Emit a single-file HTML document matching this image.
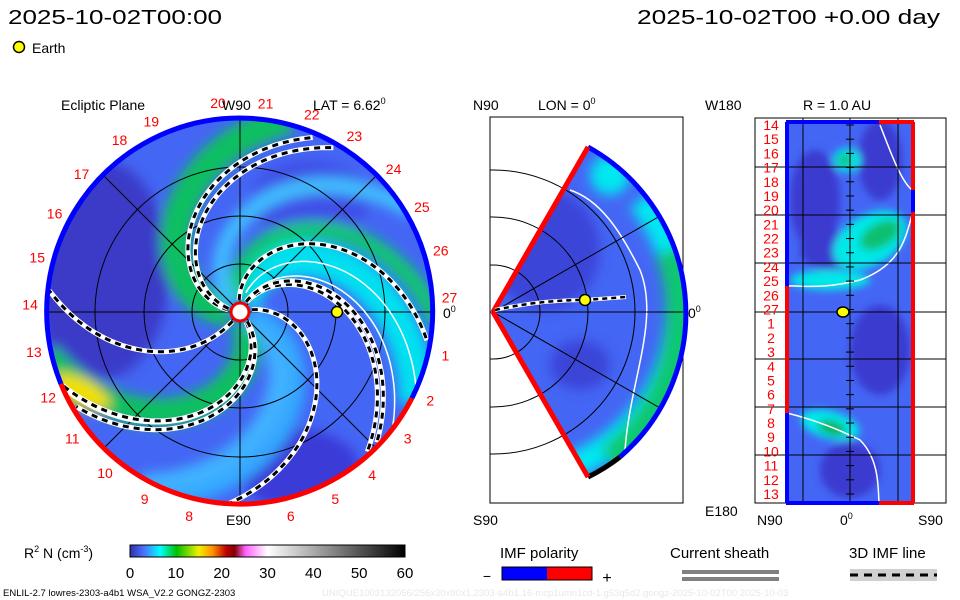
<!DOCTYPE html>
<html><head><meta charset="utf-8"><style>
html,body{margin:0;padding:0;background:#fff;}
svg{display:block;font-family:"Liberation Sans","DejaVu Sans",sans-serif;}
</style></head><body>
<svg id="s" width="960" height="600" viewBox="0 0 960 600" xmlns="http://www.w3.org/2000/svg">
<defs>
<clipPath id="cL"><circle cx="240" cy="312" r="193"/></clipPath>
<clipPath id="cM"><path d="M493,312 L588,147 A190,190 0 0 1 588,477 Z"/></clipPath>
<clipPath id="cMbox"><rect x="490" y="117" width="193" height="386"/></clipPath>
<clipPath id="cR"><rect x="786" y="122" width="127" height="381"/></clipPath>
<filter id="bl" x="-20%" y="-20%" width="140%" height="140%"><feGaussianBlur stdDeviation="6"/></filter>
<filter id="bl2" x="-20%" y="-20%" width="140%" height="140%"><feGaussianBlur stdDeviation="4"/></filter>
<linearGradient id="cbar" x1="0" x2="1" y1="0" y2="0">
<stop offset="0" stop-color="#3030a8"/><stop offset="0.05" stop-color="#4a70ff"/>
<stop offset="0.11" stop-color="#00ffff"/><stop offset="0.17" stop-color="#00c000"/>
<stop offset="0.25" stop-color="#f0f000"/><stop offset="0.30" stop-color="#ff9000"/>
<stop offset="0.35" stop-color="#c00000"/><stop offset="0.38" stop-color="#800000"/>
<stop offset="0.42" stop-color="#ff60ff"/><stop offset="0.5" stop-color="#ffffff"/>
<stop offset="1" stop-color="#000000"/>
</linearGradient>
</defs>

<text x="8" y="24" font-size="20" textLength="214" lengthAdjust="spacingAndGlyphs">2025-10-02T00:00</text>
<text x="637" y="24" font-size="20" textLength="303" lengthAdjust="spacingAndGlyphs">2025-10-02T00 +0.00 day</text>
<circle cx="19" cy="47" r="5.5" fill="#ffff00" stroke="#000" stroke-width="1.5"/>
<text x="32" y="53" font-size="14">Earth</text>

<!-- LEFT PANEL -->
<g>
<circle cx="240" cy="312" r="193" fill="#4466f4"/>
<g clip-path="url(#cL)" id="leftfill">
 <g filter="url(#bl)">
  <ellipse cx="100" cy="270" rx="70" ry="110" fill="#3a3ac8"/>
  <ellipse cx="300" cy="470" rx="60" ry="40" fill="#3a3ad8"/>
  <ellipse cx="310" cy="200" rx="60" ry="40" fill="#3f50e8"/>
  <g id="bands"></g>
  <ellipse cx="80" cy="392" rx="32" ry="14" fill="#f0e000" transform="rotate(25 80 392)"/>
 </g>
</g>
<g id="leftgrid" stroke="#000" stroke-width="1" fill="none">
 <circle cx="240" cy="312" r="48"/><circle cx="240" cy="312" r="96"/><circle cx="240" cy="312" r="145"/>
 <line x1="47" y1="312" x2="433" y2="312"/><line x1="240" y1="119" x2="240" y2="505"/>
 <line x1="103" y1="175" x2="377" y2="449"/><line x1="103" y1="449" x2="377" y2="175"/>
</g>
<g id="sheaths" fill="none" stroke="#fff" stroke-width="1.5"></g>
<g id="arms"></g>
<path d="M412,398 A193,193 0 0 1 61,384" fill="none" stroke="#ff0000" stroke-width="5"/>
<path d="M61,384 A193,193 0 1 1 412,398" fill="none" stroke="#0000ff" stroke-width="5"/>
<circle cx="240" cy="312" r="9" fill="#fff" stroke="#e00" stroke-width="3"/>
<circle cx="337" cy="312" r="5.5" fill="#ffff00" stroke="#000" stroke-width="1.5"/>
<g id="carr" font-size="14" fill="#ff0000" text-anchor="middle"></g>
<text x="61" y="110" font-size="14">Ecliptic Plane</text>
<text x="222" y="110" font-size="14">W90</text>
<text x="313" y="110" font-size="14">LAT = 6.62<tspan font-size="9" dy="-6">0</tspan></text>
<text x="226" y="525" font-size="14">E90</text>
<text x="443" y="318" font-size="14">0<tspan font-size="9" dy="-6">0</tspan></text>
</g>

<!-- MIDDLE PANEL -->
<g>
<rect x="490" y="117" width="193" height="386" fill="none" stroke="#000"/>
<path d="M493,312 L588,147 A190,190 0 0 1 588,477 Z" fill="#4466f4"/>
<g clip-path="url(#cM)"><g filter="url(#bl)">
 <ellipse cx="545" cy="250" rx="55" ry="60" fill="#3a44d8"/>
 <path d="M560,470 A170,170 0 0 0 640,200" stroke="#00e8f0" stroke-width="26" fill="none"/>
 <path d="M610,460 A185,185 0 0 0 670,250" stroke="#10c870" stroke-width="30" fill="none"/>
 <ellipse cx="610" cy="175" rx="20" ry="20" fill="#00e8f0"/>
 <ellipse cx="580" cy="365" rx="30" ry="25" fill="#3a44d8"/>
</g></g>
<path d="M625,450 C630,380 660,320 640,270 C620,230 600,200 570,190" stroke="#fff" stroke-width="1.5" fill="none"/>
<g stroke="#000" fill="none" clip-path="url(#cMbox)">
 <circle cx="493" cy="312" r="47"/><circle cx="493" cy="312" r="95"/><circle cx="493" cy="312" r="142"/>
 <line x1="490" y1="312" x2="683" y2="312"/>
 <line x1="493" y1="312" x2="660" y2="216"/><line x1="493" y1="312" x2="660" y2="408"/>
 <line x1="493" y1="312" x2="588" y2="147"/><line x1="493" y1="312" x2="588" y2="477"/>
</g>
<path d="M588,147 A190,190 0 0 1 620,457" fill="none" stroke="#0000ff" stroke-width="5"/>
<path d="M620,457 A190,190 0 0 1 588,477" fill="none" stroke="#000" stroke-width="5"/>
<path d="M493,312 L588,147 M493,312 L588,477" fill="none" stroke="#ff0000" stroke-width="5"/>
<path d="M495,310 Q540,300 585,300 L626,297" fill="none" stroke="#fff" stroke-width="4"/>
<path d="M495,310 Q540,300 585,300 L626,297" fill="none" stroke="#000" stroke-width="2.5" stroke-dasharray="5,4"/>
<circle cx="585" cy="300" r="5.5" fill="#ffff00" stroke="#000" stroke-width="1.5"/>
<text x="473" y="110" font-size="14">N90</text>
<text x="538" y="110" font-size="14">LON = 0<tspan font-size="9" dy="-6">0</tspan></text>
<text x="688" y="318" font-size="14">0<tspan font-size="9" dy="-6">0</tspan></text>
<text x="473" y="525" font-size="14">S90</text>
</g>

<!-- RIGHT PANEL -->
<g>
<rect x="755" y="118" width="191" height="385" fill="#fff" stroke="#000"/>
<rect x="786" y="122" width="127" height="381" fill="#4466f4"/>
<g clip-path="url(#cR)"><g filter="url(#bl2)">
 <ellipse cx="815" cy="200" rx="25" ry="50" fill="#3a3ad0"/>
 <ellipse cx="880" cy="160" rx="22" ry="40" fill="#3a3ad0"/>
 <ellipse cx="830" cy="250" rx="30" ry="20" fill="#3a3ad0"/>
 <ellipse cx="847" cy="160" rx="14" ry="12" fill="#00e8e8"/>
 <ellipse cx="845" cy="160" rx="7" ry="6" fill="#10c070"/>
 <ellipse cx="870" cy="240" rx="40" ry="25" fill="#00e8e8" transform="rotate(-30 870 240)"/>
 <ellipse cx="880" cy="235" rx="22" ry="12" fill="#10c070" transform="rotate(-30 880 235)"/>
 <ellipse cx="830" cy="280" rx="40" ry="10" fill="#00e8e8"/>
 <ellipse cx="880" cy="350" rx="30" ry="45" fill="#3a3ad0"/>
 <ellipse cx="830" cy="425" rx="30" ry="14" fill="#00e8e8" transform="rotate(15 830 425)"/>
 <ellipse cx="832" cy="428" rx="14" ry="7" fill="#10b050" transform="rotate(15 832 428)"/>
 <ellipse cx="850" cy="470" rx="30" ry="28" fill="#3a3ad0"/>
</g></g>
<path d="M880,125 C890,150 900,180 912,190 M912,215 C905,240 900,265 860,280 C820,290 800,285 787,286 M787,413 C815,420 840,430 860,440 C880,460 878,490 879,503" stroke="#fff" stroke-width="1.5" fill="none"/>
<g stroke="#000">
 <line x1="803" y1="118" x2="803" y2="503"/><line x1="850" y1="118" x2="850" y2="503"/><line x1="898" y1="118" x2="898" y2="503"/>
 <g id="rgrid"></g><g id="rticks"></g>
</g>
<path d="M787,122 L787,286" stroke="#0000ff" stroke-width="4"/><path d="M787,286 L787,413" stroke="#ff0000" stroke-width="4"/><path d="M787,413 L787,503" stroke="#0000ff" stroke-width="4"/>
<path d="M913,122 L913,190" stroke="#ff0000" stroke-width="4"/><path d="M913,190 L913,212" stroke="#0000ff" stroke-width="4"/><path d="M913,212 L913,503" stroke="#ff0000" stroke-width="4"/>
<path d="M786,122 L879,122 M786,503 L879,503" stroke="#0000ff" stroke-width="4"/><path d="M879,122 L914,122 M879,503 L914,503" stroke="#ff0000" stroke-width="4"/>
<ellipse cx="843" cy="312" rx="6" ry="5" fill="#ffff00" stroke="#000" stroke-width="1.5"/>
<g id="rlabels" font-size="14" fill="#ff0000" text-anchor="middle"></g>
<text x="705" y="110" font-size="14">W180</text>
<text x="803" y="110" font-size="14">R = 1.0 AU</text>
<text x="705" y="516" font-size="14">E180</text>
<text x="757" y="525" font-size="14">N90</text>
<text x="840" y="525" font-size="14">0<tspan font-size="9" dy="-6">0</tspan></text>
<text x="918" y="525" font-size="14">S90</text>
</g>

<!-- LEGENDS -->
<g>
<text x="24" y="558" font-size="14">R<tspan font-size="9" dy="-6">2</tspan><tspan dy="6"> N (cm</tspan><tspan font-size="9" dy="-6">-3</tspan><tspan dy="6">)</tspan></text>
<rect x="130" y="545" width="275" height="12" fill="url(#cbar)" stroke="#000"/>
<g id="cbticks" font-size="15" text-anchor="middle"></g>
</g>
<g>
<text x="500" y="558" font-size="15">IMF polarity</text>
<text x="487" y="581" font-size="14" text-anchor="middle">−</text>
<rect x="502" y="567" width="45" height="13" fill="#0000ff"/><rect x="547" y="567" width="45" height="13" fill="#ff0000"/>
<rect x="502" y="567" width="90" height="13" fill="none" stroke="#000"/>
<text x="607" y="583" font-size="16" text-anchor="middle">+</text>
</g>
<g>
<text x="670" y="558" font-size="15">Current sheath</text>
<rect x="682" y="570" width="97" height="4" fill="#808080"/><rect x="682" y="577" width="97" height="4" fill="#808080"/>
</g>
<g>
<text x="849" y="558" font-size="15">3D IMF line</text>
<rect x="850" y="569" width="87" height="12" fill="#d0d0d0"/>
<line x1="850" y1="575" x2="937" y2="575" stroke="#000" stroke-width="3" stroke-dasharray="8,6"/>
</g>
<text x="3" y="596" font-size="9.5">ENLIL-2.7 lowres-2303-a4b1 WSA_V2.2 GONGZ-2303</text>
<text x="322" y="596" font-size="9.5" fill="#e8e8e8">UNIQUE1003132056/256x30x90x1.2303-a4b1.16-mcp1umn1cd-1.g53q5d2.gongz-2025-10-02T00   2025-10-03</text>
</svg>
<script>
// spiral arm data: end angle offset theta0 (deg) and twist rate k (deg per px radius)
const armTheta0 = [-177, -170, -62, -66, -101, 125, 52, 46, -18];
const armTwist  = [0.58, 0.58, 0.58, 0.58, 0.58, 0.32, 0.55, 0.55, 0.58];
const armRmax   = [190, 190, 191, 191, 190, 193, 193, 190, 193];
const bandTheta0 = [-185, -88, -112, 58, 20, -140, 0];
const bandTwist  = [0.55, 0.58, 0.58, 0.55, 0.5, 0.55, 0.55];
const bandWidth  = [30, 36, 18, 28, 24, 16, 14];
const bandColor  = ['#10c060','#00e0f0','#10c870','#10c060','#40b0ff','#40c0ff','#30a8ff'];
const sheathTheta0 = [-84, -70, 50];
const sheathTwist  = [0.56, 0.56, 0.55];
const carrLabels = ['19','20','21','22','23','24','25','26','27','1','2','3','4','5','6','8','9','10','11','12','13','14','15','16','17','18'];
const carrAngles = [-115,-96,-83,-70,-57,-43,-30,-17,-4,12,25,37,51,63,76,104,117,130,143,156,169,182,195,208,221,235];
const rLabels = ['14','15','16','17','18','19','20','21','22','23','24','25','26','27','1','2','3','4','5','6','7','8','9','10','11','12','13'];
const cbTicks = [0,10,20,30,40,50,60];
const rGridY = [167,215,263,312,359,407,455];

const NS='http://www.w3.org/2000/svg';
const cx=240, cy=312;
function spiralPath(t0,k,r0,r1){
  let d='';
  for(let r=r0;r<=r1;r+=3){
    const a=(t0+k*r)*Math.PI/180;
    d+=(d?'L':'M')+(cx+r*Math.cos(a)).toFixed(1)+','+(cy+r*Math.sin(a)).toFixed(1);
  }
  return d;
}
function mk(tag,attrs,parent){const e=document.createElementNS(NS,tag);for(const k in attrs)e.setAttribute(k,attrs[k]);parent.appendChild(e);return e;}
const bands=document.getElementById('bands');
bandTheta0.forEach((t,i)=>{
  const p=mk('path',{d:spiralPath(t,bandTwist[i],10,200),stroke:bandColor[i],'stroke-width':bandWidth[i],fill:'none'},bands);
  
  
});
const sh=document.getElementById('sheaths');
sheathTheta0.forEach((t,i)=>{
  const p=mk('path',{d:spiralPath(t,sheathTwist[i],20,192)},sh);
  
  
});
const arms=document.getElementById('arms');
armTheta0.forEach((t,i)=>{
  const d=spiralPath(t,armTwist[i],12,armRmax[i]);
  const g=mk('g',{},arms);
  
  
  mk('path',{d:d,stroke:'#fff','stroke-width':5,fill:'none'},g);
  mk('path',{d:d,stroke:'#000','stroke-width':3,fill:'none','stroke-dasharray':'6,5'},g);
});
const carr=document.getElementById('carr');
carrLabels.forEach((l,i)=>{
  const a=carrAngles[i]*Math.PI/180, R=210;
  const t=mk('text',{x:(cx+R*Math.cos(a)).toFixed(1),y:(cy+R*Math.sin(a)+5).toFixed(1)},carr);
  t.textContent=l;
  
  
});
const rl=document.getElementById('rlabels');
rLabels.forEach((l,i)=>{
  const y=125+i*(494-125)/(rLabels.length-1);
  const t=mk('text',{x:771,y:(y+5).toFixed(1)},rl);
  t.textContent=l;
  
  
});
const rg=document.getElementById('rgrid');
rGridY.forEach(y=>{mk('line',{x1:755,x2:946,y1:y,y2:y},rg);});
const rt=document.getElementById('rticks');
for(let i=0;i<27;i++){const y=125+i*(494-125)/26;mk('line',{x1:846,x2:854,y1:y,y2:y},rt);}
const cb=document.getElementById('cbticks');
cbTicks.forEach(v=>{
  const x=130+v/60*275;
  const t=mk('text',{x:x,y:578},cb);
  t.textContent=v;
  
  
});
</script>
</body></html>
